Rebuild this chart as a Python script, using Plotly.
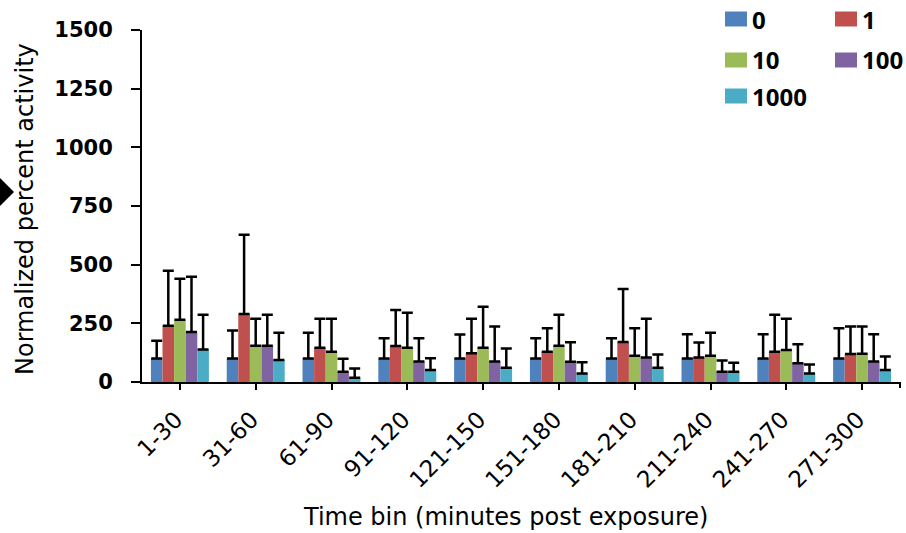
import plotly.graph_objects as go

# ---- data ----
categories = ["1-30", "31-60", "61-90", "91-120", "121-150",
              "151-180", "181-210", "211-240", "241-270", "271-300"]
series_names = ["0", "1", "10", "100", "1000"]

mean_0 = [100, 100, 100, 100, 100, 100, 100, 100, 100, 100]
mean_1 = [240, 290, 146, 153, 122, 129, 170, 104, 129, 119]
mean_10 = [265, 155, 129, 146, 146, 155, 112, 112, 136, 120]
mean_100 = [213, 155, 44, 87, 87, 86, 104, 44, 80, 87]
mean_1000 = [138, 94, 18, 51, 61, 36, 61, 44, 36, 51]

sd_0 = [76, 119, 110, 86, 102, 86, 86, 103, 103, 129]
sd_1 = [234, 338, 124, 154, 148, 100, 226, 64, 158, 117]
sd_10 = [175, 115, 141, 149, 175, 132, 117, 98, 134, 116]
sd_100 = [236, 132, 55, 99, 149, 83, 166, 48, 81, 116]
sd_1000 = [149, 116, 40, 50, 82, 48, 56, 38, 39, 58]

y_ticks = [0, 250, 500, 750, 1000, 1250, 1500]

colors = ["#4F81BD", "#C0504D", "#9BBB59", "#8064A2", "#4BACC6"]

means = [mean_0, mean_1, mean_10, mean_100, mean_1000]
sds = [sd_0, sd_1, sd_10, sd_100, sd_1000]

# ---- layout geometry (pixels) ----
W, H = 906, 533
L, R, T, B = 142, 6, 30, 151
PW, PH = W - L - R, H - T - B


def px(x):
    return (x - L) / PW


def py(y):
    return (H - B - y) / PH


FONT = "DejaVu Sans"

fig = go.Figure()
for name, m, s, c in zip(series_names, means, sds, colors):
    fig.add_trace(go.Bar(
        x=categories, y=m, name=name,
        marker=dict(color=c, line=dict(width=0)),
        error_y=dict(type="data", array=s, arrayminus=[0] * len(s),
                     symmetric=False, color="black", thickness=2.5, width=5.5),
        showlegend=False,
    ))

shapes = []
annotations = []

# manual legend (two columns)
legend_pos = [(725, 19), (835, 19), (725, 60), (835, 60), (725, 96)]
for name, c, (lx, ly) in zip(series_names, colors, legend_pos):
    shapes.append(dict(type="rect", xref="paper", yref="paper",
                       x0=px(lx), x1=px(lx + 22), y0=py(ly + 7.5), y1=py(ly - 7.5),
                       fillcolor=c, line=dict(width=0)))
    annotations.append(dict(text=name, xref="paper", yref="paper",
                            x=px(lx + 25), y=py(ly), xanchor="left", yanchor="middle",
                            showarrow=False,
                            font=dict(family="Open Sans", size=24, color="black", weight="bold")))

# end tick on x axis
shapes.append(dict(type="line", xref="paper", yref="paper",
                   x0=1, x1=1, y0=0, y1=py(H - B + 6),
                   line=dict(color="black", width=2)))

# black diamond at left edge
dx, dy, r = -2, 192, 16
shapes.append(dict(type="path", xref="paper", yref="paper",
                   path=(f"M {px(dx + r)},{py(dy)} L {px(dx)},{py(dy - r)} "
                         f"L {px(dx - r)},{py(dy)} L {px(dx)},{py(dy + r)} Z"),
                   fillcolor="black", line=dict(width=0)))

# axis titles
annotations.append(dict(text="Normalized percent activity", xref="paper", yref="paper",
                        x=px(25), y=py(209), xanchor="center", yanchor="middle",
                        textangle=-90, showarrow=False,
                        font=dict(family=FONT, size=24, color="black")))
annotations.append(dict(text="Time bin (minutes post exposure)", xref="paper", yref="paper",
                        x=px(505), y=py(517), xanchor="center", yanchor="middle",
                        showarrow=False,
                        font=dict(family=FONT, size=24, color="black")))

fig.update_layout(
    width=W, height=H,
    margin=dict(l=L, r=R, t=T, b=B, pad=0),
    paper_bgcolor="white", plot_bgcolor="white",
    barmode="group", bargap=0.235, bargroupgap=0,
    showlegend=False,
    shapes=shapes, annotations=annotations,
    xaxis=dict(
        type="category", range=[-0.5, 9.5],
        showline=True, linecolor="black", linewidth=2,
        ticks="outside", ticklen=6, tickwidth=2, tickcolor="black",
        tickangle=-45, ticklabelstandoff=7, ticklabelshift=-4,
        tickfont=dict(family=FONT, size=23, color="black"),
        showgrid=False, zeroline=False,
    ),
    yaxis=dict(
        range=[0, 1500], tickvals=y_ticks,
        showline=True, linecolor="black", linewidth=2,
        ticks="outside", ticklen=9, tickwidth=2, tickcolor="black",
        ticklabelstandoff=14,
        tickfont=dict(family=FONT, size=21, color="black", weight="bold"),
        showgrid=False, zeroline=False,
    ),
)

fig.write_html("out.html",
               config={"displayModeBar": False},
               post_script="document.body.style.margin='0';document.body.style.overflow='hidden';")
